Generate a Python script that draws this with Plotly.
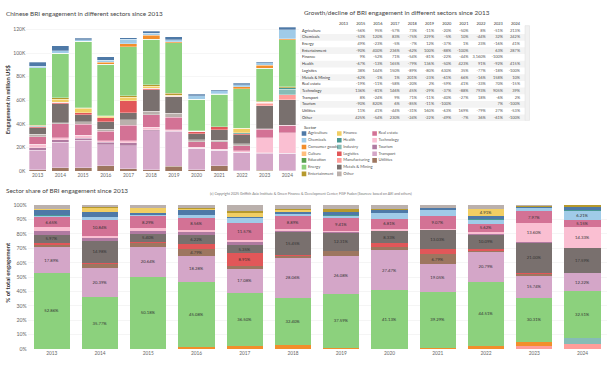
import numpy as np
import plotly.graph_objects as go

W, H = 608, 365
FONT = "Lato"

# ---------------- data ----------------
years = [str(y) for y in range(2013, 2025)]
sectors = ["Agriculture", "Chemicals", "Consumer goods", "Culture", "Education", "Energy",
           "Entertainment", "Finance", "Health", "Industry", "Logistics", "Manufacturing",
           "Metals & Mining", "Other", "Real estate", "Technology", "Tourism", "Transport",
           "Utilities"]
sector_colors = ["#4E79A7", "#A0CBE8", "#F28E2B", "#FFBE7D", "#59A14F", "#8CD17D",
                 "#B6992D", "#F1CE63", "#499894", "#86BCB6", "#E15759", "#FF9D9A",
                 "#79706E", "#BAB0AC", "#D37295", "#FABFD2", "#B07AA1", "#D4A6C8",
                 "#9D7660"]

# total engagement per year, million US$
totals_musd = [92200, 106000, 112500, 97000, 112800, 118600, 113600, 65200, 69200, 74500, 92500, 122000]

# sector share of total engagement (%), 2013..2024
share_agriculture = [3.6, 3.9, 1.1, 3.3, 1.0, 1.5, 2.0, 2.0, 1.5, 1.8, 0.7, 2.0]
share_chemicals = [1.2, 1.8, 1.0, 1.8, 3.4, 1.4, 1.6, 4.2, 3.9, 2.4, 2.4, 6.21]
share_consumer_goods = [0, 0, 0, 1.5, 2.3, 3.0, 0.7, 0, 0.6, 2.3, 2.7, 0.5]
share_culture = [0, 0, 0, 0, 0, 0, 0, 0, 0, 0, 0, 0]
share_education = [0.2, 0, 0, 0, 0, 0, 0, 0, 0, 0, 0, 0]
share_energy = [52.86, 35.77, 50.18, 45.08, 36.50, 32.40, 37.59, 41.13, 39.29, 44.51, 30.31, 32.51]
share_entertainment = [0.4, 1.0, 0.3, 0.5, 1.2, 1.0, 1.5, 0.4, 0, 0.2, 0.6, 1.0]
share_finance = [0.3, 2.5, 3.4, 1.3, 2.8, 1.3, 0.5, 0.4, 0.15, 4.91, 0, 0]
share_health = [0.4, 0, 0, 0, 0, 0, 0.3, 0, 0, 1.2, 0.3, 0.84]
share_industry = [0, 0, 0, 0, 0, 0, 0, 0, 0, 0, 0, 3.9]
share_logistics = [1.2, 1.1, 1.3, 3.4, 8.91, 1.2, 0.3, 2.8, 3.7, 1.0, 0.8, 0]
share_manufacturing = [0, 0, 0, 0, 0, 0, 0, 0, 0, 0, 2.3, 3.4]
share_metals_mining = [5.97, 14.98, 5.40, 6.22, 5.35, 15.45, 12.31, 8.33, 13.03, 10.09, 21.00, 17.59]
share_other = [2.33, 1.12, 1.89, 1.87, 4.09, 2.4, 2.91, 2.66, 1.92, 2.38, 0.38, 0]
share_real_estate = [6.65, 10.84, 8.29, 8.56, 11.57, 8.89, 9.41, 6.81, 9.07, 5.62, 7.97, 5.15]
share_technology = [3.2, 1.6, 2.3, 1.0, 1.5, 1.8, 0.7, 1.5, 1.0, 1.7, 13.60, 14.33]
share_tourism = [2.2, 2.3, 1.6, 2.4, 2.3, 0.6, 0.4, 0, 0, 0.3, 0.2, 0]
share_transport = [17.89, 20.39, 20.64, 18.28, 17.08, 28.06, 26.08, 27.47, 19.05, 20.79, 15.74, 12.22]
share_utilities = [1.6, 2.7, 2.6, 4.79, 2.0, 1.0, 3.7, 2.3, 6.79, 0.8, 1.0, 0.35]

shares = dict(zip(sectors, [share_agriculture, share_chemicals, share_consumer_goods, share_culture,
                            share_education, share_energy, share_entertainment, share_finance,
                            share_health, share_industry, share_logistics, share_manufacturing,
                            share_metals_mining, share_other, share_real_estate, share_technology,
                            share_tourism, share_transport, share_utilities]))
colors = dict(zip(sectors, sector_colors))

# stacking order (bottom -> top)
abs_order = list(reversed(sectors))
share_order = ["Manufacturing", "Industry", "Consumer goods", "Energy", "Transport", "Utilities",
               "Logistics", "Metals & Mining", "Tourism", "Technology", "Real estate", "Culture",
               "Chemicals", "Health", "Agriculture", "Education", "Finance", "Entertainment", "Other"]

abs_tickvals = [0, 20000, 40000, 60000, 80000, 100000, 120000]
abs_ticktext = ["0K", "20K", "40K", "60K", "80K", "100K", "120K"]
pct_tickvals = [0, 10, 20, 30, 40, 50, 60, 70, 80, 90, 100]
pct_ticktext = ["0%", "10%", "20%", "30%", "40%", "50%", "60%", "70%", "80%", "90%", "100%"]

# growth table
table_header = ["2013", "2015", "2016", "2017", "2018", "2019", "2020", "2021", "2022", "2023", "2024"]
table_rows = ["Agriculture", "Chemicals", "Energy", "Entertainment", "Finance", "Health", "Logistics",
              "Metals & Mining", "Real estate", "Technology", "Transport", "Tourism", "Utilities", "Other"]
g_agriculture = ["", "-56%", "95%", "-57%", "73%", "-11%", "-20%", "-50%", "8%", "-51%", "213%"]
g_chemicals = ["", "-53%", "120%", "83%", "-75%", "229%", "-5%", "10%", "-44%", "32%", "242%"]
g_energy = ["", "49%", "-23%", "-5%", "-7%", "12%", "-37%", "1%", "23%", "-16%", "41%"]
g_entertainment = ["", "-90%", "400%", "236%", "-62%", "100%", "-88%", "-100%", "", "63%", "287%"]
g_finance = ["", "9%", "-52%", "71%", "-54%", "-81%", "-22%", "-44%", "3,160%", "-100%", ""]
g_health = ["", "-67%", "-13%", "165%", "-79%", "136%", "-50%", "423%", "91%", "-92%", "415%"]
g_logistics = ["", "38%", "144%", "150%", "-89%", "-80%", "630%", "35%", "-77%", "-18%", "-100%"]
g_metals = ["", "-62%", "-1%", "1%", "201%", "-23%", "-61%", "66%", "-16%", "158%", "10%"]
g_real_estate = ["", "-19%", "-11%", "-58%", "-20%", "2%", "-59%", "41%", "-33%", "70%", "-15%"]
g_technology = ["", "136%", "-81%", "146%", "45%", "-29%", "-37%", "-88%", "793%", "905%", "39%"]
g_transport = ["", "8%", "-24%", "9%", "71%", "-11%", "-40%", "-27%", "18%", "-6%", "2%"]
g_tourism = ["", "-90%", "820%", "6%", "-85%", "-11%", "-100%", "", "", "7%", "-100%"]
g_utilities = ["", "11%", "41%", "-44%", "-31%", "160%", "-63%", "169%", "-79%", "27%", "-53%"]
g_other = ["", "425%", "-54%", "230%", "-24%", "-22%", "-49%", "-7%", "36%", "-61%", "-100%"]
growth = [g_agriculture, g_chemicals, g_energy, g_entertainment, g_finance, g_health, g_logistics,
          g_metals, g_real_estate, g_technology, g_transport, g_tourism, g_utilities, g_other]

# ---------------- helpers ----------------
def fx(p):
    return p / W

def fy(p):
    return 1 - p / H

fig = go.Figure()
totals = np.array(totals_musd, dtype=float)

# absolute stacked bars
for s in abs_order:
    vals = np.array(shares[s]) / 100.0 * totals
    fig.add_trace(go.Bar(x=years, y=vals, name=s, marker=dict(color=colors[s], line=dict(color="white", width=0.3)),
                         xaxis="x", yaxis="y", showlegend=False, hoverinfo="skip"))

# share stacked bars
for s in share_order:
    vals = np.array(shares[s], dtype=float)
    txt = [f"{v:.2f}%" if v >= 4.5 else "" for v in vals]
    fig.add_trace(go.Bar(x=years, y=vals, name=s, text=txt, textposition="inside",
                         insidetextanchor="middle", textangle=0, constraintext="none",
                         textfont=dict(size=4.2, color="#333", family=FONT),
                         marker=dict(color=colors[s], line=dict(width=0)),
                         xaxis="x2", yaxis="y2", showlegend=False, hoverinfo="skip"))

# table (text on its own hidden axes: column index / row index)
COL0_PX, COL_STEP = 348, 17.2
TBL_L, TBL_R = 300, 525
TBL_T, TBL_B = 18.8, 120.8
lab_x = (302 - COL0_PX) / COL_STEP
ncol = len(table_header)
fig.add_trace(go.Scatter(x=list(range(ncol)), y=[-1] * ncol, text=table_header, mode="text",
                         textposition="middle left", textfont=dict(size=3.9, color="#333", family=FONT),
                         xaxis="x3", yaxis="y3", showlegend=False, hoverinfo="skip"))
fig.add_trace(go.Scatter(x=[lab_x] * len(table_rows), y=list(range(len(table_rows))), text=table_rows,
                         mode="text", textposition="middle right",
                         textfont=dict(size=3.9, color="#333", family=FONT),
                         xaxis="x3", yaxis="y3", showlegend=False, hoverinfo="skip"))
vx, vy, vt = [], [], []
for i, row in enumerate(growth):
    for j, v in enumerate(row):
        vx.append(j); vy.append(i); vt.append(v)
fig.add_trace(go.Scatter(x=vx, y=vy, text=vt, mode="text", textposition="middle left",
                         textfont=dict(size=3.9, color="#555", family=FONT),
                         xaxis="x3", yaxis="y3", showlegend=False, hoverinfo="skip"))

# legend (on its own hidden axes: column / row)
lg_x, lg_y = [], []
for k, s in enumerate(sectors):
    lg_x.append(k // 7)
    lg_y.append(k % 7)
fig.add_trace(go.Scatter(x=lg_x, y=lg_y, text=sectors, mode="markers+text", textposition="middle right",
                         marker=dict(symbol="square", size=4.6, color=sector_colors),
                         textfont=dict(size=4.1, color="#555", family=FONT),
                         xaxis="x4", yaxis="y4", showlegend=False, hoverinfo="skip"))

LG_X0, LG_XSTEP = 304, 35.3
LG_Y0, LG_YSTEP = 133.3, 6.83
LG_L, LG_R, LG_T, LG_B = 300, 430, 128, 180

shapes = []
for i in range(len(table_rows)):
    if i % 2 == 1:
        shapes.append(dict(type="rect", xref="x3 domain", yref="y3", x0=0, x1=1, y0=i - 0.5, y1=i + 0.5,
                           fillcolor="#f3f3f3", line=dict(width=0), layer="below"))
shapes.append(dict(type="rect", xref="paper", yref="paper", x0=fx(525), x1=fx(529.5), y0=fy(120), y1=fy(24),
                   fillcolor="#f1f1f1", line=dict(color="#dcdcdc", width=0.5)))

annotations = [
    dict(text="Chinese BRI engagement in different sectors since 2013", x=fx(4), y=fy(11.5),
         font=dict(size=6.4, color="#444", family=FONT)),
    dict(text="Growth/decline of BRI engagement in different sectors since 2013", x=fx(302), y=fy(11),
         font=dict(size=6.4, color="#444", family=FONT)),
    dict(text="Sector share of BRI engagement since 2013", x=fx(4), y=fy(191),
         font=dict(size=6.4, color="#444", family=FONT)),
    dict(text="(c) Copyright 2025 Griffith Asia Institute & Green Finance & Development Center, FISF Fudan (Sources: based on AEI and others)",
         x=fx(208), y=fy(194.5), font=dict(size=3.6, color="#777", family=FONT)),
    dict(text="Sector", x=fx(302), y=fy(127.3), font=dict(size=4.3, color="#333", family=FONT)),
]
for a in annotations:
    a.update(xref="paper", yref="paper", xanchor="left", yanchor="middle", showarrow=False)
annotations += [
    dict(text="Engagement in million US$", x=fx(7.5), y=fy(99), xref="paper", yref="paper", textangle=-90,
         xanchor="center", yanchor="middle", showarrow=False,
         font=dict(size=5.8, color="#333", family=FONT, weight="bold")),
    dict(text="% of total engagement", x=fx(7.5), y=fy(274), xref="paper", yref="paper", textangle=-90,
         xanchor="center", yanchor="middle", showarrow=False,
         font=dict(size=6.0, color="#333", family=FONT, weight="bold")),
]

tick_font = dict(size=4.8, color="#666", family=FONT)
hidden = dict(visible=False, showgrid=False, zeroline=False, fixedrange=True)

fig.update_layout(
    width=W, height=H, margin=dict(l=0, r=0, t=0, b=0),
    paper_bgcolor="white", plot_bgcolor="white",
    barmode="stack", bargap=0.25,
    font=dict(family=FONT, color="#555"),
    xaxis=dict(domain=[fx(26.3), fx(298.7)], anchor="y", type="category", showgrid=False,
               tickfont=tick_font, ticks="", showline=False, zeroline=False),
    yaxis=dict(domain=[fy(171.7), fy(23)], anchor="x", range=[0, 124000], tickvals=abs_tickvals,
               ticktext=abs_ticktext, tickfont=dict(size=5.0, color="#666", family=FONT),
               gridcolor="#f0f0f0", gridwidth=0.6, zeroline=False, ticks=""),
    xaxis2=dict(domain=[fx(27.6), fx(606.6)], anchor="y2", type="category", showgrid=False,
                tickfont=tick_font, ticks="", zeroline=False),
    yaxis2=dict(domain=[fy(351.7), fy(205.3)], anchor="x2", range=[0, 100.5], tickvals=pct_tickvals,
                ticktext=pct_ticktext, tickfont=dict(size=5.2, color="#666", family=FONT),
                gridcolor="#eeeeee", gridwidth=0.6, zeroline=False, ticks=""),
    xaxis3=dict(domain=[fx(TBL_L), fx(TBL_R)], anchor="y3",
                range=[(TBL_L - COL0_PX) / COL_STEP, (TBL_R - COL0_PX) / COL_STEP], **hidden),
    yaxis3=dict(domain=[fy(TBL_B), fy(TBL_T)], anchor="x3",
                range=[len(table_rows) - 0.5, -1.5], **hidden),
    xaxis4=dict(domain=[fx(LG_L), fx(LG_R)], anchor="y4",
                range=[(LG_L - LG_X0) / LG_XSTEP, (LG_R - LG_X0) / LG_XSTEP], **hidden),
    yaxis4=dict(domain=[fy(LG_B), fy(LG_T)], anchor="x4",
                range=[(LG_B - LG_Y0) / LG_YSTEP, (LG_T - LG_Y0) / LG_YSTEP], **hidden),
    shapes=shapes, annotations=annotations,
)

fig.write_html("out.html", config={"displayModeBar": False, "staticPlot": True},
               post_script="document.body.style.margin='0';document.body.style.overflow='hidden';")
